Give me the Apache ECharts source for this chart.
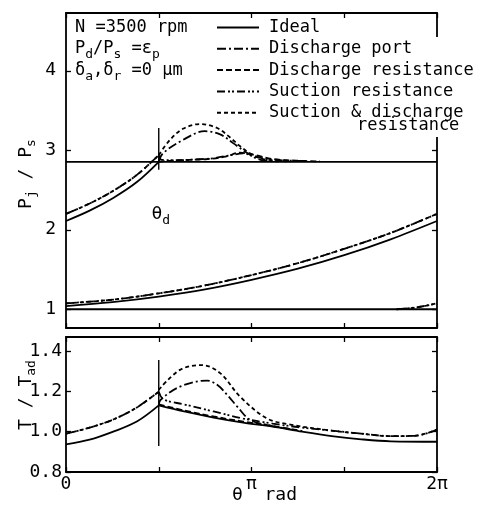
<!DOCTYPE html>
<html><head><meta charset="utf-8">
<script src="https://cdn.jsdelivr.net/npm/echarts@6/dist/echarts.min.js"></script>
<style>html,body{margin:0;padding:0;background:#fff}#c{width:491px;height:509px}</style>
</head><body><div id="c"></div>
<script>
const PI = Math.PI, TAU = 2 * Math.PI, THETA_D = Math.PI / 2;
const seriesNames = ['Ideal', 'Discharge port', 'Discharge resistance', 'Suction resistance', 'Suction & discharge resistance'];
const xTickLabels = ['0', 'π', '2π'];
const pTicks = [1, 2, 3, 4];
const tTicks = [0.8, 1.0, 1.2, 1.4];

// ---- Pressure ratio Pj/Ps (upper panel) ----
const idealCompP   = [[0,2.11],[0.4,2.24],[0.8,2.40],[1.2,2.60],[1.571,2.855]];
const idealDischP  = [[0,2.855],[6.283,2.855]];
const idealClosedP = [[0,1.04],[0.785,1.09],[1.571,1.16],[2.356,1.25],[3.142,1.37],[3.927,1.51],[4.712,1.68],[5.498,1.88],[6.283,2.11]];
const idealSuctP   = [[0,1.0],[6.283,1.0]];
const suctSuctP    = [[5.6,1.0],[5.9,1.02],[6.1,1.045],[6.283,1.075]];
const suctClosedP  = [[0,1.075],[0.785,1.12],[1.571,1.20],[2.356,1.30],[3.142,1.43],[3.927,1.58],[4.712,1.76],[5.498,1.96],[6.283,2.20]];
const suctCompP    = [[0,2.20],[0.4,2.33],[0.8,2.49],[1.2,2.69],[1.571,2.94]];
const portDischP   = [[1.571,2.855],[1.64,2.96],[1.98,3.13],[2.35,3.24],[2.61,3.20],[2.83,3.09],[3.07,2.965],[3.29,2.88],[3.6,2.86]];
const dresDischP   = [[1.571,2.855],[1.8,2.87],[2.1,2.88],[2.4,2.89],[2.7,2.92],[2.95,2.97],[3.2,2.94],[3.5,2.89],[3.9,2.87],[4.3,2.86]];
const sresDischP   = [[1.571,2.94],[1.62,2.88],[1.9,2.875],[2.2,2.885],[2.5,2.90],[2.8,2.94],[3.0,2.96],[3.2,2.92],[3.5,2.88],[4.0,2.865]];
const sdDischP     = [[1.571,2.94],[1.76,3.13],[1.98,3.27],[2.27,3.33],[2.56,3.28],[2.78,3.16],[2.95,3.05],[3.12,2.96],[3.34,2.89],[3.8,2.86]];
const thetaDLineP  = [2.755, 3.28];
const thetaDLabelP = [1.605, 2.19];

// ---- Temperature T/Tad (lower panel) ----
const idealCompT  = [[0,0.937],[0.4,0.96],[0.8,1.0],[1.2,1.05],[1.571,1.13]];
const idealAfterT = [[1.571,1.13],[2.0,1.10],[2.5,1.07],[3.0,1.045],[3.5,1.025],[4.0,1.0],[4.5,0.978],[5.0,0.962],[5.5,0.952],[6.283,0.95]];
const suctCompT   = [[0,0.99],[0.4,1.02],[0.8,1.06],[1.2,1.12],[1.571,1.198]];
const sresAfterT  = [[1.571,1.198],[1.65,1.16],[2.0,1.135],[2.5,1.10],[3.0,1.065],[3.5,1.04],[4.0,1.02],[4.5,1.005],[5.0,0.99],[5.5,0.978],[5.9,0.979],[6.283,1.01]];
const sdAfterT    = [[1.571,1.207],[1.93,1.306],[2.30,1.33],[2.61,1.29],[2.95,1.173],[3.40,1.066],[3.8,1.035],[4.5,1.005],[5.0,0.99],[5.5,0.978],[5.9,0.979],[6.283,1.01]];
const portAfterT  = [[1.571,1.13],[1.60,1.157],[1.93,1.223],[2.39,1.253],[2.56,1.232],[2.73,1.182],[2.90,1.124],[3.12,1.058],[3.46,1.03],[3.8,1.012]];
const dresAfterT  = [[1.571,1.135],[2.0,1.105],[2.5,1.075],[3.0,1.05],[3.5,1.028],[4.0,1.003]];
const thetaDLineT = [0.929, 1.355];

const FONT = "'DejaVu Sans Mono', monospace";
const styles = {
  'Ideal': 'solid',
  'Discharge port': [9, 3, 2, 3],
  'Discharge resistance': [6, 3],
  'Suction resistance': [8, 3, 2, 2, 2, 3],
  'Suction & discharge resistance': [4, 3]
};
function line(name, data, g) {
  return { type: 'line', name: name, data: data, xAxisIndex: g * 2, yAxisIndex: g * 2,
    symbol: 'none', showSymbol: false, smooth: 0.35, silent: true, color: '#000',
    itemStyle: { color: '#000' },
    lineStyle: { color: '#000', width: 1.8, type: styles[name] } };
}
function vline(xv, ys, g) {
  return { type: 'line', data: [[xv, ys[0]], [xv, ys[1]]], xAxisIndex: g * 2, yAxisIndex: g * 2,
    symbol: 'none', silent: true, lineStyle: { color: '#000', width: 1.4 } };
}
const axisLine = { show: true, onZero: false, lineStyle: { color: '#000', width: 1.8 } };
function xAx(grid, pos, labels) {
  return { type: 'value', gridIndex: grid, position: pos, min: 0, max: TAU, interval: PI / 2,
    axisLine: axisLine, splitLine: { show: false },
    axisTick: { show: true, inside: true, length: 5, lineStyle: { color: '#000', width: 1.3 } },
    axisLabel: labels ? { show: true, customValues: [0, PI, TAU], margin: 3,
      formatter: v => xTickLabels[Math.round(v / PI)], color: '#000', fontSize: 18, fontFamily: FONT } : { show: false } };
}
function yAx(grid, pos, min, max, ticks, labels, margin) {
  return { type: 'value', gridIndex: grid, position: pos, min: min, max: max,
    axisLine: axisLine, splitLine: { show: false },
    axisTick: { show: true, inside: true, length: 5, customValues: ticks, lineStyle: { color: '#000', width: 1.3 } },
    axisLabel: labels ? { show: true, customValues: ticks, margin: margin, color: '#000', fontSize: 18, fontFamily: FONT,
      formatter: v => (ticks === pTicks ? String(Math.round(v)) : v.toFixed(1)) } : { show: false } };
}
const rich = {
  m: { fontSize: 18, fontFamily: FONT, color: '#000', verticalAlign: 'top', lineHeight: 18 },
  s: { fontSize: 13, fontFamily: FONT, color: '#000', verticalAlign: 'top', lineHeight: 13, padding: [8, 0, 0, 0] },
  l: { fontSize: 17, fontFamily: FONT, color: '#000', verticalAlign: 'top', lineHeight: 17 },
  ls: { fontSize: 13, fontFamily: FONT, color: '#000', verticalAlign: 'top', lineHeight: 13, padding: [8, 0, 0, 0] }
};

const series = [
  line('Ideal', idealCompP, 0), line('Ideal', idealDischP, 0), line('Ideal', idealClosedP, 0), line('Ideal', idealSuctP, 0),
  line('Suction resistance', suctSuctP, 0), line('Suction resistance', suctClosedP, 0), line('Suction resistance', suctCompP, 0),
  line('Suction & discharge resistance', suctSuctP, 0), line('Suction & discharge resistance', suctClosedP, 0), line('Suction & discharge resistance', suctCompP, 0),
  line('Discharge port', portDischP, 0), line('Discharge resistance', dresDischP, 0),
  line('Suction resistance', sresDischP, 0), line('Suction & discharge resistance', sdDischP, 0),
  vline(THETA_D, thetaDLineP, 0),
  { type: 'scatter', xAxisIndex: 0, yAxisIndex: 0, data: [thetaDLabelP], symbolSize: 0, silent: true,
    itemStyle: { opacity: 1, color: '#000' },
    label: { show: true, position: 'inside', color: '#000', opacity: 1, textBorderWidth: 0, formatter: '{m|θ}{s|d}', rich: rich } },
  line('Ideal', idealCompT, 1), line('Ideal', idealAfterT, 1),
  line('Suction resistance', suctCompT, 1), line('Suction & discharge resistance', suctCompT, 1),
  line('Suction resistance', sresAfterT, 1), line('Suction & discharge resistance', sdAfterT, 1),
  line('Discharge port', portAfterT, 1), line('Discharge resistance', dresAfterT, 1),
  vline(THETA_D, thetaDLineT, 1)
];

const chart = echarts.init(document.getElementById('c'), null, { renderer: 'canvas' });
chart.setOption({
  animation: false,
  backgroundColor: '#fff',
  grid: [
    { left: 66, top: 13, width: 371, height: 315 },
    { left: 66, top: 337, width: 371, height: 135 }
  ],
  xAxis: [xAx(0, 'bottom', false), xAx(0, 'top', false), xAx(1, 'bottom', true), xAx(1, 'top', false)],
  yAxis: [yAx(0, 'left', 0.764, 4.727, pTicks, true, 10), yAx(0, 'right', 0.764, 4.727, pTicks, false),
          yAx(1, 'left', 0.8, 1.469, tTicks, true, 4), yAx(1, 'right', 0.8, 1.469, tTicks, false)],
  legend: {
    data: seriesNames, orient: 'vertical', left: 216, top: 19, itemWidth: 42, itemHeight: 14, itemGap: 4.3,
    selectedMode: false, padding: 0,
    itemStyle: { color: 'rgba(0,0,0,0)', borderWidth: 0, opacity: 0 },
    formatter: n => n === 'Suction & discharge resistance' ? 'Suction & discharge' : n,
    textStyle: { fontFamily: FONT, fontSize: 17, lineHeight: 14, color: '#000', padding: [0, 0, 0, 5] }
  },
  graphic: [
    { type: 'rect', z: 1, shape: { x: 262, y: 37, width: 220, height: 100 }, style: { fill: '#fff' } },
    { type: 'text', z: 5, left: 357, top: 117, style: { text: 'resistance', font: "17px 'DejaVu Sans Mono'", fill: '#000' } },
    { type: 'text', z: 5, left: 75, top: 19, style: { text: '{l|N =3500 rpm}', rich: rich } },
    { type: 'text', z: 5, left: 75, top: 40, style: { text: '{l|P}{ls|d}{l|/P}{ls|s}{l| =ε}{ls|p}', rich: rich } },
    { type: 'text', z: 5, left: 75, top: 62, style: { text: '{l|δ}{ls|a}{l|,δ}{ls|r}{l| =0 μm}', rich: rich } },
    { type: 'text', z: 5, x: 26, y: 174, rotation: PI / 2,
      style: { text: '{m|P}{s|j}{m| / P}{s|s}', rich: rich, align: 'center', verticalAlign: 'middle' } },
    { type: 'text', z: 5, x: 26, y: 395, rotation: PI / 2,
      style: { text: '{m|T / T}{s|ad}', rich: rich, align: 'center', verticalAlign: 'middle' } },
    { type: 'text', z: 5, left: 232, top: 486, style: { text: 'θ  rad', font: "18px 'DejaVu Sans Mono'", fill: '#000' } }
  ],
  series: series
});
</script></body></html>
